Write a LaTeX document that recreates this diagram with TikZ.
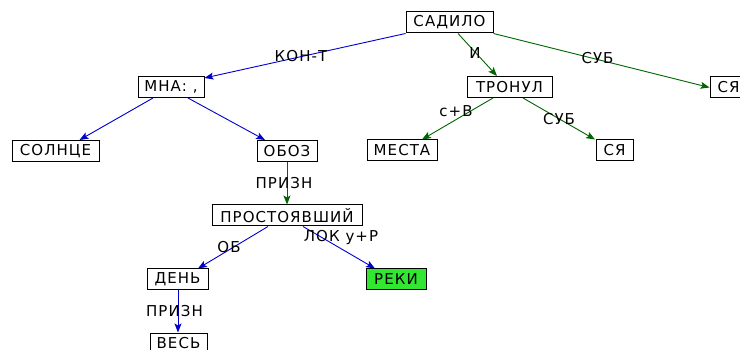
\documentclass[tikz,border=0pt]{standalone}
\usepackage{fontspec}
\setmainfont{DejaVu Sans}[LetterSpace=7]
\usetikzlibrary{arrows.meta}
\definecolor{edgeblue}{RGB}{0,0,205}
\definecolor{edgegreen}{RGB}{0,100,0}
\definecolor{hlgreen}{RGB}{50,230,50}
\tikzset{
  wordbox/.style={draw=black, line width=1pt, fill=white, inner sep=0pt,
    minimum height=21pt, font=\fontsize{15pt}{17pt}\selectfont, text=black, anchor=center},
  hlbox/.style={wordbox, fill=hlgreen},
  bluelink/.style={draw=edgeblue, line width=0.9pt, -{Stealth[length=9pt,width=7pt,inset=2pt]}},
  greenlink/.style={draw=edgegreen, line width=0.9pt, -{Stealth[length=9pt,width=7pt,inset=2pt]}},
  rel/.style={inner sep=0pt, font=\fontsize{15pt}{17pt}\selectfont, text=black, pos=0.5}
}
\begin{document}
\begin{tikzpicture}[x=1pt,y=-1pt]
\useasboundingbox (0,0) rectangle (740,350);
\clip (0,0) rectangle (740,350);
\fill[white] (0,0) rectangle (740,350);
% nodes
\node[wordbox, minimum width=87pt] (sadilo) at (449.5,22.5) {САДИЛО};
\node[wordbox, minimum width=66pt] (mna) at (171,87) {МНА: ,};
\node[wordbox, minimum width=85pt] (tronul) at (509.5,87) {ТРОНУЛ};
\node[wordbox, minimum width=37pt] (syaA) at (728.5,87.5) {СЯ};
\node[wordbox, minimum width=87pt] (solnce) at (55.5,151) {СОЛНЦЕ};
\node[wordbox, minimum width=60pt] (oboz) at (287,151) {ОБОЗ};
\node[wordbox, minimum width=70pt] (mesta) at (402,150.5) {МЕСТА};
\node[wordbox, minimum width=37pt] (syaB) at (614.5,150.5) {СЯ};
\node[wordbox, minimum width=150pt] (prost) at (287,215.5) {ПРОСТОЯВШИЙ};
\node[wordbox, minimum width=61pt] (den) at (177.5,279.5) {ДЕНЬ};
\node[hlbox, minimum width=60pt] (reki) at (396,279.5) {РЕКИ};
\node[wordbox, minimum width=57pt] (ves) at (178.5,343.5) {ВЕСЬ};
% connectors
\draw[bluelink] (sadilo.south west) -- ([yshift=-2pt]mna.north east)
  node[rel, xshift=-4pt] (lkont) {КОН-Т};
\draw[greenlink] ([xshift=8.5pt]sadilo.south) -- ([xshift=-12.5pt]tronul.north)
  node[rel, xshift=-2.5pt, yshift=2pt] (li) {И};
\draw[greenlink] (sadilo.south east) -- (syaA.west)
  node[rel, xshift=-4pt, yshift=2pt] (lsubA) {СУБ};
\draw[bluelink] ([xshift=-18pt]mna.south) -- ([xshift=24pt]solnce.north);
\draw[bluelink] ([xshift=17pt]mna.south) -- ([xshift=-22pt]oboz.north);
\draw[greenlink] (oboz.south) -- (prost.north)
  node[rel, xshift=-3pt] (lpriznA) {ПРИЗН};
\draw[greenlink] ([xshift=-16.5pt]tronul.south) -- ([xshift=20pt]mesta.north)
  node[rel, xshift=-1.5pt, yshift=7.5pt] (lsv) {с+В};
\draw[greenlink] ([xshift=13.5pt]tronul.south) -- ([xshift=-19.5pt]syaB.north)
  node[rel] (lsubB) {СУБ};
\draw[bluelink] ([xshift=-19pt]prost.south) -- ([xshift=20.5pt]den.north)
  node[rel, xshift=-4pt] (lob) {ОБ};
\draw[bluelink] ([xshift=16pt]prost.south) -- ([xshift=-21pt]reki.north)
  node[rel, xshift=2pt, yshift=10pt] (llok) {ЛОК у+Р};
\draw[bluelink] ([xshift=0.5pt]den.south) -- ([xshift=0.5pt]den.south |- ves.north)
  node[rel, xshift=-3.5pt] (lpriznB) {ПРИЗН};
\end{tikzpicture}
\end{document}
